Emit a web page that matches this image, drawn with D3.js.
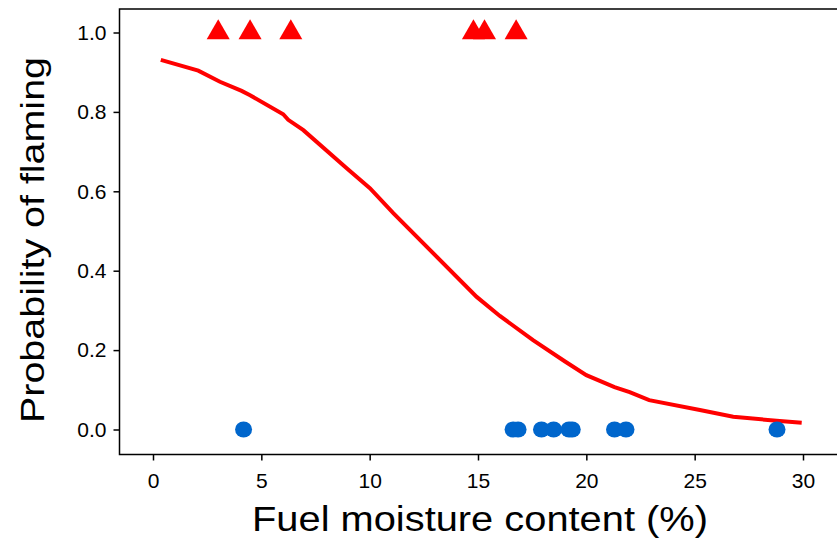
<!DOCTYPE html>
<html>
<head>
<meta charset="utf-8">
<script src="https://cdn.jsdelivr.net/npm/d3@7"></script>
<style>
  body { margin: 0; background: #fff; }
  svg text { font-family: "Liberation Sans", Arial, sans-serif; fill: #000; }
</style>
</head>
<body>
<svg id="chart" width="837" height="545"></svg>
<script>
"use strict";

// observations: flaming (y = 1) and not flaming (y = 0)
var flameX = [3.01, 4.48, 6.36, 14.79, 15.30, 16.76];
var noFlameX = [4.18, 16.62, 16.85, 17.93, 18.49, 19.20, 19.35, 21.30, 21.83, 28.80];

// fitted curve
var curveX = [0.36, 2.09, 3.09, 4.09, 4.48, 6.01, 6.24, 6.94, 8.94, 10.01, 11.09,
              14.94, 16.01, 17.54, 19.0, 20.0, 21.3, 22.0, 22.9, 25.24, 26.78, 28.78, 29.94];
var curveY = [0.931, 0.904, 0.876, 0.853, 0.842, 0.794, 0.780, 0.754, 0.658, 0.608, 0.545,
              0.334, 0.286, 0.225, 0.172, 0.137, 0.107, 0.094, 0.074, 0.049, 0.032, 0.022, 0.017];

var xTicks = [0, 5, 10, 15, 20, 25, 30];
var yTicks = [0, 0.2, 0.4, 0.6, 0.8, 1.0];

var svg = d3.select('#chart');

var frameLeft = 119.5, frameBottom = 454.5, frameTop = 9, frameRight = 837;

var x = d3.scaleLinear().domain([0, 30]).range([153, 803]);
var y = d3.scaleLinear().domain([0, 1]).range([429.5, 32.5]);

// frame: left, bottom and top lines
svg.append('path')
    .attr('d', 'M' + frameRight + ',' + frameTop + 'H' + frameLeft +
        'V' + frameBottom + 'H' + frameRight)
    .attr('fill', 'none')
    .attr('stroke', '#000')
    .attr('stroke-width', 1.5);

var xAxis = svg.append('g')
    .attr('transform', 'translate(0,' + frameBottom + ')')
    .call(d3.axisBottom(x).tickValues(xTicks).tickSize(6).tickPadding(13)
        .tickFormat(d3.format('d')));
xAxis.select('.domain').remove();
xAxis.selectAll('line').attr('stroke-width', 1.5);
xAxis.selectAll('text').style('font-size', '21px').attr('fill', '#000');

var yAxis = svg.append('g')
    .attr('transform', 'translate(' + frameLeft + ',0)')
    .call(d3.axisLeft(y).tickValues(yTicks).tickSize(6).tickPadding(7)
        .tickFormat(d3.format('.1f')));
yAxis.select('.domain').remove();
yAxis.selectAll('line').attr('stroke-width', 1.5);
yAxis.selectAll('text').style('font-size', '21px').attr('fill', '#000');

// axis titles
svg.append('text')
    .attr('x', 480)
    .attr('y', 531)
    .attr('text-anchor', 'middle')
    .attr('textLength', 456)
    .attr('lengthAdjust', 'spacingAndGlyphs')
    .style('font-size', '35px')
    .text('Fuel moisture content (%)');

svg.append('text')
    .attr('transform', 'translate(44,240) rotate(-90)')
    .attr('text-anchor', 'middle')
    .attr('textLength', 366)
    .attr('lengthAdjust', 'spacingAndGlyphs')
    .style('font-size', '34px')
    .text('Probability of flaming');

// fitted line
var line = d3.line()
    .x(function (d) { return x(d[0]); })
    .y(function (d) { return y(d[1]); });

svg.append('path')
    .datum(d3.zip(curveX, curveY))
    .attr('d', line)
    .attr('fill', 'none')
    .attr('stroke', '#ff0000')
    .attr('stroke-width', 4);

// points
svg.selectAll('ellipse.nf')
    .data(noFlameX)
    .enter()
    .append('ellipse')
    .attr('class', 'nf')
    .attr('cx', function (d) { return x(d); })
    .attr('cy', y(0))
    .attr('rx', 8.5)
    .attr('ry', 8)
    .attr('fill', '#0066cc');

svg.selectAll('path.fl')
    .data(flameX)
    .enter()
    .append('path')
    .attr('class', 'fl')
    .attr('d', d3.symbol().type(d3.symbolTriangle).size(230))
    .attr('transform', function (d) { return 'translate(' + x(d) + ',' + y(1) + ')'; })
    .attr('fill', '#ff0000');
</script>
</body>
</html>
